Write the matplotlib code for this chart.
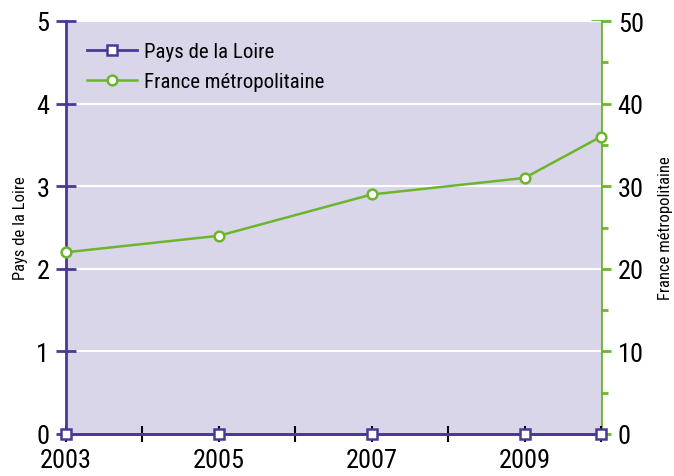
import matplotlib.pyplot as plt
from matplotlib import font_manager

annees = [2003, 2005, 2007, 2009, 2010]
pays_de_la_loire = [0, 0, 0, 0, 0]
france_metro = [22, 24, 29, 31, 36]

ticks_x = [2003, 2004, 2005, 2006, 2007, 2008, 2009, 2010]
labels_x = ['2003', '', '2005', '', '2007', '', '2009', '']

noms = set(f.name for f in font_manager.fontManager.ttflist)
police = 'DejaVu Sans'
for p in ['Roboto Condensed', 'Liberation Sans Narrow', 'Open Sans Condensed']:
    if p in noms:
        police = p
        break
plt.rcParams['font.family'] = [police, 'DejaVu Sans']
plt.rcParams['font.stretch'] = 'condensed'

violet = '#4a3894'
vert = '#6cb52d'

fig = plt.figure(figsize=(6.74, 4.77), dpi=100)
ax = fig.add_axes([66 / 674, 42 / 477, 535 / 674, 413 / 477])
ax2 = ax.twinx()

ax.set_facecolor('#d9d6ea')
ax.set_zorder(ax2.get_zorder() + 1)
ax2.patch.set_visible(False)

# grille blanche horizontale
ax.set_ylim(0, 5)
ax.set_yticks(range(6))
ax.yaxis.grid(True, color='white', linewidth=1.5)
ax.set_axisbelow(True)
ax.set_xlim(2003, 2010)
ax.set_xticks(ticks_x)
ax.set_xticklabels(labels_x)

l2, = ax.plot(annees, [v / 10 for v in france_metro], color=vert, linewidth=1.8,
              marker='o', markersize=7, markerfacecolor='white', markeredgecolor=vert,
              markeredgewidth=1.8, clip_on=False, zorder=4)
l1, = ax.plot(annees, pays_de_la_loire, color=violet, linewidth=2,
              marker='s', markersize=7, markerfacecolor='white', markeredgecolor=violet,
              markeredgewidth=1.8, clip_on=False, zorder=5)

ax2.set_ylim(0, 50)
ax2.set_yticks(range(0, 51, 10))
ax2.set_yticks(range(5, 50, 10), minor=True)

for s in ['top', 'right']:
    ax.spines[s].set_visible(False)
for s in ['top', 'left', 'bottom']:
    ax2.spines[s].set_visible(False)
ax.spines['left'].set_color(violet)
ax.spines['left'].set_linewidth(2)
ax.spines['bottom'].set_color(violet)
ax.spines['bottom'].set_linewidth(2)
ax2.spines['right'].set_color(vert)
ax2.spines['right'].set_linewidth(2)

ax.tick_params(axis='y', direction='inout', length=14, width=2, color=violet,
               labelsize=19, pad=5)
ax.tick_params(axis='x', direction='inout', length=12, width=1.5, color='black',
               labelsize=19, pad=4)
ax2.tick_params(axis='y', which='major', direction='inout', length=14, width=2,
                color=vert, labelsize=19, pad=5)
ax2.tick_params(axis='y', which='minor', direction='inout', length=10, width=2,
                color=vert)

ax.set_ylabel('Pays de la Loire', fontsize=12, labelpad=6)
ax2.set_ylabel('France métropolitaine', fontsize=12, labelpad=10)

ax.legend([l1, l2], ['Pays de la Loire', 'France métropolitaine'], loc='upper left',
          frameon=False, fontsize=15, handlelength=2.4, borderaxespad=0.6,
          labelspacing=0.55, handletextpad=0.35)

fig.savefig('out.png', dpi=100)
